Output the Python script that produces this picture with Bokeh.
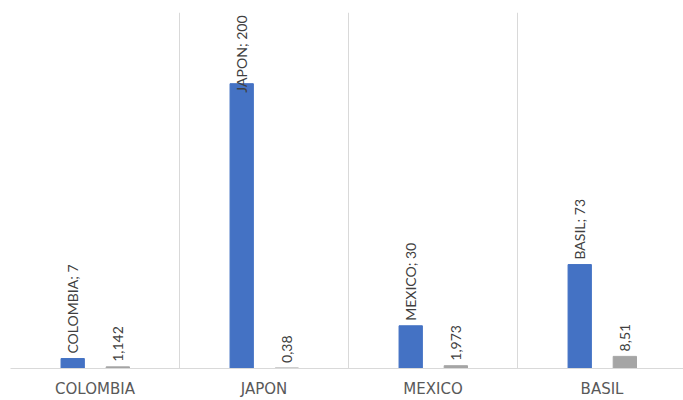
import math
from bokeh.plotting import figure
from bokeh.models import ColumnDataSource, FixedTicker, Range1d
from bokeh.core.properties import value
from bokeh.embed import file_html
from bokeh.resources import INLINE

categories = ["COLOMBIA", "JAPON", "MEXICO", "BASIL"]
series_a = [7, 200, 30, 73]
series_b = [1.142, 0.38, 1.973, 8.51]
labels_a = ["COLOMBIA; 7", "JAPON; 200", "MEXICO; 30", "BASIL; 73"]
labels_b = ["1,142", "0,38", "1,973", "8,51"]

YMAX = 250
BLUE = "#4472C4"
GRAY = "#A5A5A5"

p = figure(width=683, height=400, output_backend="svg", toolbar_location=None,
           x_range=Range1d(0, 3.982), y_range=Range1d(0, YMAX),
           min_border_left=10, min_border_right=0, min_border_top=12, min_border_bottom=32)
p.outline_line_color = None
p.background_fill_color = "white"
p.border_fill_color = "white"

xa = [i + 0.5 - 0.132 for i in range(len(categories))]
xb = [i + 0.5 + 0.135 for i in range(len(categories))]
W = 0.138

p.vbar(x=xa, top=series_a, width=W, color=BLUE)
p.vbar(x=xb, top=series_b, width=W, color=GRAY)

# labels: above bars, clamped inside plot top for tall bars
px_per_unit = 356 / YMAX
def place(vals, texts, per_char):
    ys, aligns, offs = [], [], []
    for v, t in zip(vals, texts):
        est = len(t) * per_char
        if v * px_per_unit + 5 + est > 356:
            ys.append(YMAX); aligns.append("right"); offs.append(3)
        else:
            ys.append(v); aligns.append("left"); offs.append(-5)
    return ys, aligns, offs

ya, al_a, off_a = place(series_a, labels_a, 8.8)
yb, al_b, off_b = place(series_b, labels_b, 8.8)

src = ColumnDataSource(dict(x=xa + xb, y=ya + yb, t=labels_a + labels_b,
                            al=al_a + al_b, off=off_a + off_b))
p.text(x="x", y="y", text="t", source=src, angle=math.pi / 2,
       text_align="al", text_baseline="middle", y_offset="off",
       text_font=value("Lato"), text_font_size="14px", text_color="#404040")

p.yaxis.visible = False
p.ygrid.visible = False
p.xgrid.ticker = FixedTicker(ticks=[0, 1, 2, 3, 4])
p.xgrid.grid_line_color = "#d9d9d9"

p.xaxis.ticker = FixedTicker(ticks=[i + 0.5 for i in range(len(categories))])
p.xaxis.major_label_overrides = {i + 0.5: c for i, c in enumerate(categories)}
p.xaxis.axis_line_color = "#d9d9d9"
p.xaxis.major_tick_line_color = None
p.xaxis.minor_tick_line_color = None
p.xaxis.major_tick_out = 0
p.xaxis.major_tick_in = 0
p.xaxis.major_label_text_font = "DejaVu Sans"
p.xaxis.major_label_text_font_size = "15px"
p.xaxis.major_label_text_color = "#595959"
p.xaxis.major_label_standoff = 11

open("out.html", "w").write(file_html(p, INLINE))
